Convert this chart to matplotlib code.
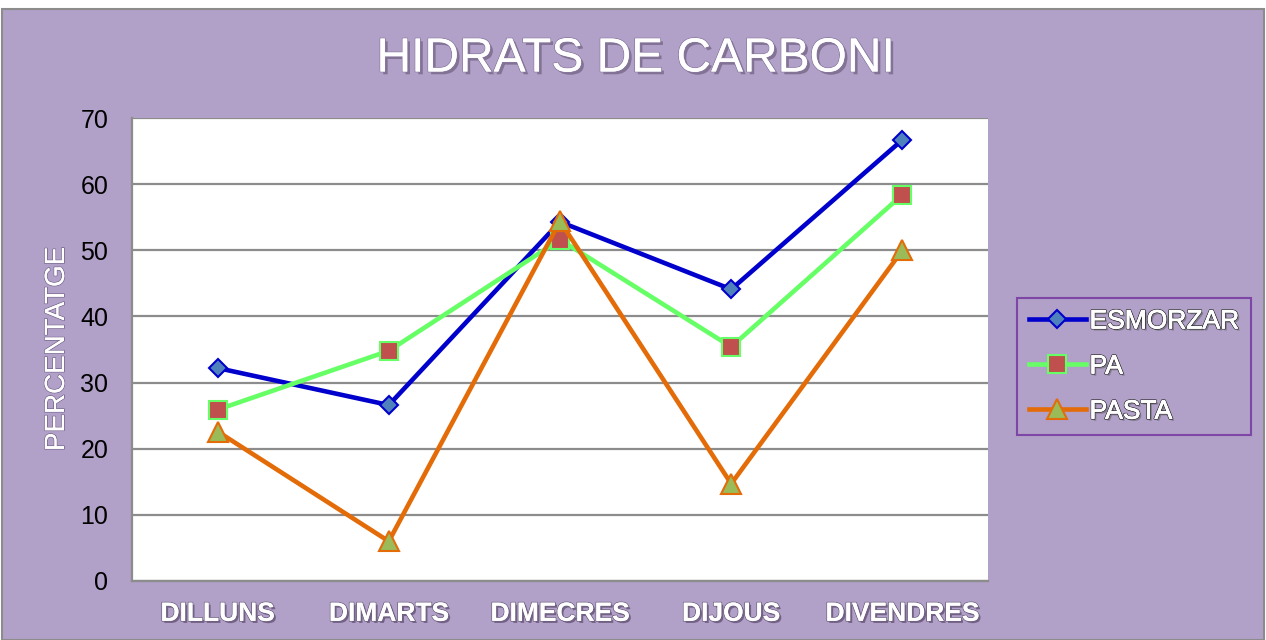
import matplotlib
matplotlib.use("Agg")
import matplotlib.pyplot as plt
import matplotlib.patheffects as pe
from matplotlib.patches import Rectangle

categories = ["DILLUNS", "DIMARTS", "DIMECRES", "DIJOUS", "DIVENDRES"]
esmorzar = [32.2, 26.6, 54.3, 44.1, 66.7]
pa = [25.9, 34.8, 51.6, 35.4, 58.4]
pasta = [22.6, 6.0, 54.4, 14.7, 50.0]
yticks = [0, 10, 20, 30, 40, 50, 60, 70]

BG = "#B1A0C7"
plt.rcParams['font.family'] = ['Liberation Sans', 'DejaVu Sans']

fig = plt.figure(figsize=(12.66, 6.40), dpi=100)
fig.patch.set_facecolor("white")
fig.patches.append(Rectangle((2/1266, 0), 1262/1266, 631/640, transform=fig.transFigure,
                             facecolor=BG, edgecolor="#8C8C8C", linewidth=1.5, zorder=-10))

ax = fig.add_axes([132/1266, 1 - 581/640, (988 - 132)/1266, (581 - 118)/640])
ax.set_facecolor("white")
x = list(range(len(categories)))

ax.plot(x, esmorzar, color="#0000CC", lw=3.3, marker="D", ms=9.5,
        mfc="#4F81BD", mec="#0000CC", mew=1.5, label="ESMORZAR", zorder=3)
ax.plot(x, pa, color="#66FF66", lw=3.3, marker="s", ms=12.5,
        mfc="#C0504D", mec="#66FF66", mew=1.5, label="PA", zorder=3)
ax.plot(x, pasta, color="#E36C09", lw=3.3, marker="^", ms=14,
        mfc="#9BBB59", mec="#E36C09", mew=1.5, label="PASTA", zorder=4)

ax.set_xlim(-0.5, len(categories) - 0.5)
ax.set_ylim(0, 70)
ax.set_yticks(yticks)
ax.set_yticklabels([str(v) for v in yticks], fontsize=18, color="black")
ax.yaxis.grid(True, color="#8C8C8C", lw=1.6)
ax.set_axisbelow(True)
ax.set_xticks(x)
ax.set_xticklabels(categories, fontsize=19, fontweight="bold", color="white")
for t in ax.get_xticklabels():
    t.set_path_effects([pe.withSimplePatchShadow(offset=(1.5, -1.5), shadow_rgbFace="#4A3A5A", alpha=0.6),
                        pe.withStroke(linewidth=1.2, foreground="#6E6080"), pe.Normal()])
ax.tick_params(axis="both", length=0)
ax.tick_params(axis="x", pad=15)
ax.tick_params(axis="y", pad=17)
for s in ["top", "right"]:
    ax.spines[s].set_visible(False)
for s in ["left", "bottom"]:
    ax.spines[s].set_color("#8C8C8C")
    ax.spines[s].set_linewidth(1.6)

fig.text(57/1266, 1 - 349/640, "PERCENTATGE", rotation=90, fontsize=20, color="white",
         ha="center", va="center",
         path_effects=[pe.withStroke(linewidth=1.2, foreground="#7A6A90"), pe.Normal()])

fig.text(635/1266, 1 - 59/640, "HIDRATS DE CARBONI", fontsize=34.5, color="white",
         ha="center", va="center",
         path_effects=[pe.withSimplePatchShadow(offset=(2, -2), shadow_rgbFace="#6E6080", alpha=0.7),
                       pe.withStroke(linewidth=1.2, foreground="#8A7AA0"), pe.Normal()])

leg = fig.legend(loc="center left", bbox_to_anchor=(1017/1266, 1 - 366.5/640),
                 fontsize=19, frameon=True, handlelength=2.15, handletextpad=0.15,
                 labelspacing=0.8, borderpad=0.45, borderaxespad=0)
leg.get_frame().set_facecolor(BG)
leg.get_frame().set_edgecolor("#7030A0")
leg.get_frame().set_linewidth(1.5)
leg.get_frame().set_boxstyle("square", pad=0)
for t in leg.get_texts():
    t.set_color("white")
    t.set_path_effects([pe.withSimplePatchShadow(offset=(1.5, -1.5), shadow_rgbFace="#555555", alpha=0.5),
                        pe.withStroke(linewidth=1.5, foreground="#222222"),
                        pe.Stroke(linewidth=0.6, foreground="white"), pe.Normal()])

fig.savefig("out.png", dpi=100, facecolor=fig.get_facecolor())
